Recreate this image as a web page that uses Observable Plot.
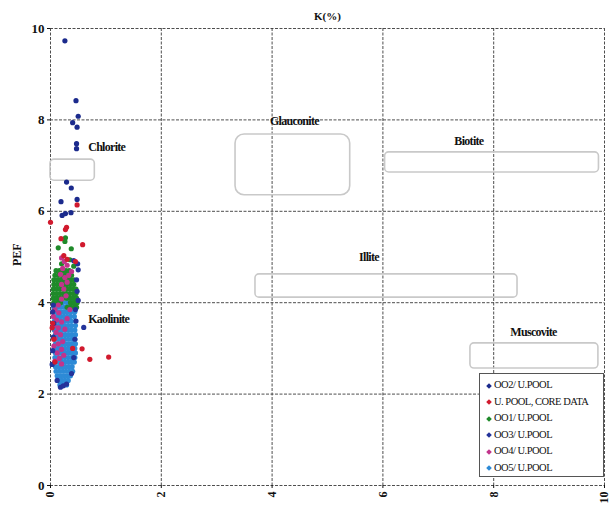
<!DOCTYPE html>
<html>
<head>
<meta charset="utf-8">
<script src="https://cdn.jsdelivr.net/npm/d3@7"></script>
<script src="https://cdn.jsdelivr.net/npm/@observablehq/plot@0.6"></script>
<style>
  body { margin: 0; background: #fff; }
  #wrap { position: relative; width: 612px; height: 509px; overflow: hidden; }
  .mlabel text { letter-spacing: -0.7px; }
  #legend {
    position: absolute; left: 479px; top: 373px; width: 125px; height: 104px;
    border: 1px solid #555; background: #fff; box-sizing: border-box;
    font-family: "Liberation Serif", serif; font-size: 10.5px; color: #111;
    padding: 3px 0 0 7px; letter-spacing: -0.5px;
  }
  #legend .item { height: 16.5px; line-height: 16.5px; white-space: nowrap; }
  #legend .mk { display: inline-block; width: 4px; height: 4px; transform: rotate(45deg); margin-right: 3px; vertical-align: middle; }
</style>
</head>
<body>
<div id="wrap"></div>
<script>
// ---- Axis ticks ----
const xTicks = [0, 2, 4, 6, 8, 10];
const yTicks = [0, 2, 4, 6, 8, 10];

// ---- Series names / colours ----
const seriesNames = ["OO2/ U.POOL", "U. POOL, CORE DATA", "OO1/ U.POOL", "OO3/ U.POOL", "OO4/ U.POOL", "OO5/ U.POOL"];
const seriesColors = ["#1b2a8c", "#d11a2e", "#1f8a2a", "#24339a", "#c2348c", "#2d8ad6"];

// ---- Series values: [K(%), PEF] ----
const oo2 = [[0.26,9.73],[0.46,8.42],[0.5,8.08],[0.4,7.94],[0.48,7.84],[0.47,7.48],[0.47,7.37],
  [0.29,6.64],[0.375,6.51],[0.48,6.26],[0.19,6.21],[0.21,5.91],[0.27,5.95],[0.37,5.97]];
const coreData = [[0.48,6.14],[0.0,5.76],[0.29,5.65],[0.27,5.6],[0.19,5.4],[0.58,5.27],[0.24,5.03],
  [0.57,2.99],[0.71,2.76],[1.05,2.81],[0.04,3.55],[0.03,3.45],[0.06,3.2],[0.3,4.95],[0.45,4.9],
  [0.08,2.7],[0.4,3.0]];
const oo1Rows = [
  [3.9, [0.3,0.36,0.42,0.47]],
  [4.0, [0.06,0.12,0.18,0.36,0.42,0.48]],
  [4.1, [0.05,0.11,0.17,0.23,0.29,0.35,0.41,0.47]],
  [4.2, [0.05,0.11,0.17,0.23,0.29,0.35,0.41,0.46]],
  [4.3, [0.05,0.11,0.17,0.23,0.29,0.35,0.41,0.46]],
  [4.4, [0.06,0.12,0.18,0.24,0.3,0.36,0.42]],
  [4.5, [0.06,0.12,0.18,0.24,0.3,0.36,0.42]],
  [4.6, [0.08,0.14,0.2,0.26,0.32,0.38]],
  [4.7, [0.1,0.16,0.22,0.28,0.34]]
];
const oo1Extra = [[0.27,5.42],[0.26,5.34],[0.14,5.2],[0.375,5.18],[0.35,4.94],[0.42,4.8],[0.2,4.85]];
const oo3 = [[0.03,2.65],[0.04,2.95],[0.05,3.25],[0.06,3.55],[0.04,3.8],[0.05,3.95],[0.5,4.05],
  [0.48,4.25],[0.47,4.5],[0.45,3.85],[0.46,3.6],[0.44,3.2],[0.42,2.8],[0.38,2.45],[0.18,2.15],
  [0.23,2.18],[0.29,2.22],[0.12,2.3],[0.6,3.46],[0.49,4.85],[0.42,4.92],[0.5,4.72]];
const oo4 = [[0.2,4.98],[0.25,4.9],[0.3,4.82],[0.22,4.75],[0.18,4.62],[0.26,4.55],[0.3,4.45],[0.2,4.4],
  [0.24,4.3],[0.28,4.15],[0.2,4.08],[0.14,3.95],[0.08,3.85],[0.15,3.78],[0.05,3.7],[0.11,3.62],
  [0.2,3.58],[0.06,3.5],[0.14,3.45],[0.26,3.42],[0.1,3.35],[0.18,3.3],[0.08,3.22],[0.22,3.15],
  [0.14,3.1],[0.06,3.05],[0.2,2.98],[0.12,2.9],[0.24,2.85],[0.16,2.78],[0.08,2.72],[0.2,2.66],
  [0.3,3.65],[0.35,3.85],[0.33,4.6],[0.38,4.68]];
const oo5Rows = [
  [2.2, [0.17,0.23,0.29]],
  [2.3, [0.14,0.2,0.26,0.32]],
  [2.4, [0.12,0.18,0.24,0.3,0.36]],
  [2.5, [0.1,0.16,0.22,0.28,0.34,0.4]],
  [2.6, [0.09,0.15,0.21,0.27,0.33,0.39]],
  [2.7, [0.08,0.14,0.2,0.26,0.32,0.38,0.43]],
  [2.8, [0.08,0.14,0.2,0.26,0.32,0.38,0.44]],
  [2.9, [0.09,0.15,0.21,0.27,0.33,0.39,0.45]],
  [3.0, [0.08,0.14,0.2,0.26,0.32,0.38,0.44]],
  [3.1, [0.09,0.15,0.21,0.27,0.33,0.39,0.45]],
  [3.2, [0.08,0.14,0.2,0.26,0.32,0.38,0.44]],
  [3.3, [0.09,0.15,0.21,0.27,0.33,0.39,0.45]],
  [3.4, [0.07,0.13,0.19,0.25,0.31,0.37,0.44]],
  [3.5, [0.08,0.14,0.2,0.26,0.32,0.38,0.45]],
  [3.6, [0.07,0.13,0.19,0.25,0.31,0.37,0.45]],
  [3.7, [0.06,0.12,0.18,0.24,0.3,0.36,0.43]],
  [3.8, [0.07,0.13,0.19,0.25,0.31,0.37,0.44]],
  [3.9, [0.06,0.12,0.18,0.24,0.3,0.36,0.44]],
  [4.0, [0.08,0.15,0.22,0.3,0.38,0.45]],
  [4.1, [0.12,0.2,0.3,0.42]]
];

// ---- Mineral zones ----
const minerals = ["Chlorite", "Glauconite", "Biotite", "Illite", "Kaolinite", "Muscovite"];
const zoneKMin   = [0,    3.34, 6.04, 3.7,  null, 7.58];
const zoneKMax   = [0.8,  5.41, 9.9,  8.43, null, 9.89];
const zonePefMin = [6.67, 6.35, 6.85, 4.11, null, 2.56];
const zonePefMax = [7.13, 7.68, 7.29, 4.62, null, 3.11];
const zoneRound  = [4, 9, 4, 4, 4, 4];
const labelK     = [0.68, 3.96, 7.29, 5.57, 0.68, 8.3];
const labelPef   = [7.40, 7.97, 7.53, 5.0, 3.65, 3.35];

// ---- Build tables ----
const fromRows = rows => rows.flatMap(([pef, ks]) => ks.map(k => [k, pef]));
const seriesData = [oo2, coreData, fromRows(oo1Rows).concat(oo1Extra), oo3, oo4, fromRows(oo5Rows)];
const pts = s => seriesData[s].map(([k, pef]) => ({k, pef, series: seriesNames[s]}));
const drawOrder = [5, 2, 4, 3, 1, 0];

const zones = minerals.map((name, i) => ({
  name, x1: zoneKMin[i], x2: zoneKMax[i], y1: zonePefMin[i], y2: zonePefMax[i], rx: zoneRound[i],
  lx: labelK[i], ly: labelPef[i]
}));
const boxed = zones.filter(z => z.x1 != null);

const font = "Liberation Serif, Times New Roman, serif";

const chart = Plot.plot({
  width: 612, height: 509,
  marginLeft: 50, marginRight: 8, marginTop: 28, marginBottom: 24,
  style: { fontFamily: font, fontWeight: "bold", fontSize: "12px", background: "white", color: "#111" },
  x: { domain: [0, 10] },
  y: { domain: [0, 10] },
  marks: [
    Plot.ruleX(xTicks, { stroke: "#3a3a3a", strokeWidth: 0.9, strokeDasharray: "3,1.5" }),
    Plot.ruleY(yTicks, { stroke: "#3a3a3a", strokeWidth: 0.9, strokeDasharray: "3,1.5" }),
    ...boxed.map(z => Plot.rect([z], { x1: "x1", x2: "x2", y1: "y1", y2: "y2", rx: z.rx, fill: "none", stroke: "#c9c9c9", strokeWidth: 1.6 })),
    Plot.text(zones, { x: "lx", y: "ly", text: "name", textAnchor: "start", fontSize: 12, fontWeight: "bold", fill: "#111", className: "mlabel" }),
    ...drawOrder.map(s => Plot.dot(pts(s), { x: "k", y: "pef", r: 2.6, fill: seriesColors[s], stroke: "none" })),
    Plot.axisY({ ticks: yTicks, tickSize: 3, tickPadding: 3, fontSize: 13, label: null }),
    Plot.axisX({ ticks: xTicks, tickSize: 3, tickPadding: 3, tickRotate: -90, fontSize: 12, label: null }),
    Plot.text(["PEF"], { frameAnchor: "left", dx: -33, dy: 9, rotate: -90, fontSize: 12, fontWeight: "bold" }),
    Plot.text(["K(%)"], { frameAnchor: "top", dy: -16, fontSize: 11, fontWeight: "bold" })
  ]
});

const wrap = document.getElementById("wrap");
wrap.appendChild(chart);

const legend = document.createElement("div");
legend.id = "legend";
seriesNames.forEach((name, i) => {
  const it = document.createElement("div");
  it.className = "item";
  const mk = document.createElement("span");
  mk.className = "mk";
  mk.style.background = seriesColors[i];
  it.appendChild(mk);
  it.appendChild(document.createTextNode(name));
  legend.appendChild(it);
});
wrap.appendChild(legend);
</script>
</body>
</html>
